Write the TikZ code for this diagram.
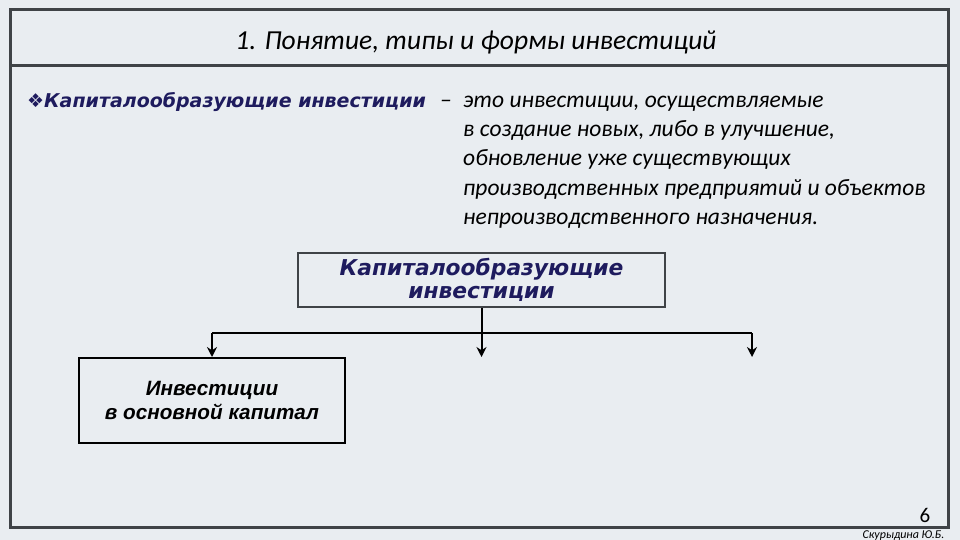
\documentclass[tikz,border=0pt]{standalone}
\usepackage{fontspec}
\setmainfont{Carlito}
\newfontfamily\dvs{DejaVu Sans}
\newfontfamily\libsans{Liberation Sans}
\usetikzlibrary{arrows.meta}
\definecolor{bgc}{HTML}{E9EDF1}
\definecolor{framec}{HTML}{3F4347}
\definecolor{navy}{HTML}{1E1B5E}
\tikzset{
  frameline/.style={draw=framec, line width=3pt},
  topbox/.style={draw=framec, line width=2.5pt, minimum width=367pt, minimum height=54pt, inner sep=0pt, align=center, text=navy, font=\dvs\bfseries\itshape\fontsize{21.8}{24}\selectfont},
  subbox/.style={draw=black, line width=2pt, minimum width=266pt, minimum height=85pt, inner sep=0pt, align=center, font=\libsans\bfseries\itshape\fontsize{20.7}{24}\selectfont},
  conn/.style={draw=black, line width=2pt},
  arr/.style={conn, -{Stealth[length=10pt,width=10pt]}},
  bodytext/.style={anchor=base west, inner sep=0pt, font=\itshape\fontsize{23.5}{29}\selectfont},
}
\begin{document}
\begin{tikzpicture}[x=1pt,y=-1pt]
\fill[bgc] (0,0) rectangle (960,540);
\useasboundingbox (0,0) rectangle (960,540);
% frame
\draw[frameline] (10,10) rectangle (948,527);
\draw[frameline] (10,66) -- (948,66);
\node[font=\itshape\fontsize{27.5}{30}\selectfont, anchor=base] (title) at (476,50) {1. Понятие, типы и формы инвестиций};
% definition line
\node[anchor=base west, inner sep=0pt, text=navy, font=\dvs\bfseries\itshape\fontsize{19}{23}\selectfont] (head) at (27,108) {{\dvs\fontsize{19}{23}\selectfont ❖}Капиталообразующие инвестиции};
\node[bodytext] (dash) at (440,108) {–};
\node[bodytext] (def1) at (463,108) {это инвестиции, осуществляемые};
\node[bodytext] (def2) at (463,137) {в создание новых, либо в улучшение,};
\node[bodytext] (def3) at (463,166) {обновление уже существующих};
\node[bodytext] (def4) at (463,195) {производственных предприятий и объектов};
\node[bodytext] (def5) at (463,224) {непроизводственного назначения.};
% diagram
\node[topbox] (kap) at (481.5,280) {Капиталообразующие\\[-1pt]инвестиции};
\node[subbox] (osn) at (212,400.5) {Инвестиции\\в основной капитал};
\coordinate (jl) at (212,333);
\coordinate (jr) at (752,333);
\coordinate (er) at (752,357);
\coordinate (ec) at (481.5,357);
\draw[conn] (jl) -- (jr);
\draw[arr] (kap.south) -- (ec);
\draw[arr] (jl) -- (osn.north);
\draw[arr] (jr) -- (er);
% footer
\node[anchor=base, font=\fontsize{21}{24}\selectfont] (pnum) at (925,522) {6};
\node[anchor=base east, font=\itshape\fontsize{12}{13}\selectfont] (sig) at (948,538) {Скурыдина Ю.Б.};
\end{tikzpicture}
\end{document}
